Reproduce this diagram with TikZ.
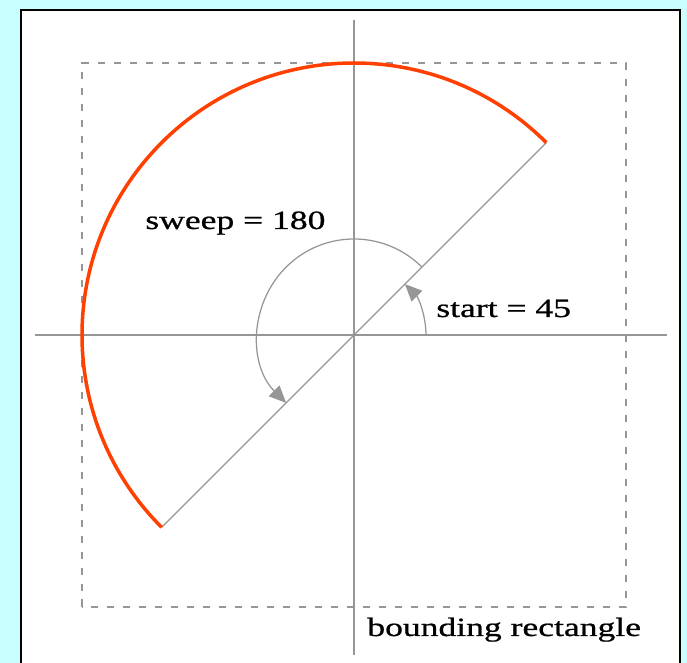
\documentclass[tikz,border=0pt]{standalone}
\usepackage{fontspec}
\setmainfont{Liberation Serif}[FakeStretch=1.35, FakeBold=0.8]
\usetikzlibrary{arrows.meta}
\definecolor{panelc}{RGB}{200,255,255}
\definecolor{arcc}{RGB}{255,64,0}
\definecolor{axisc}{RGB}{150,150,150}

\begin{document}
\begin{tikzpicture}[x=0.02cm, y=0.02cm, font=\fontsize{15}{18}\selectfont,
    axisline/.style={axisc, line width=0.025cm},
    boxline/.style={axisc, line width=0.04cm, dash pattern=on 0.15cm off 0.17cm},
    angarrow/.style={axisc, line width=0.025cm, -{Triangle[length=0.34cm, width=0.3cm]}},
    lbl/.style={anchor=base west, inner sep=0pt, text=black}]
  \def\R{272}
  \coordinate (O) at (354,328);  % centre of the ellipse

  % background + white panel
  \fill[panelc] (0,0) rectangle (687,663);
  \useasboundingbox (0,0) rectangle (687,663);
  \fill[white] (21,0) rectangle (680,653);
  \draw[black, line width=0.04cm] (21,0) -- (21,653) -- (680,653) -- (680,0);

  % axes
  \draw[axisline] (35,328) -- (667,328);
  \draw[axisline] (354,8) -- (354,643);

  % bounding rectangle
  \draw[boxline] (O) ++(-\R,-\R) rectangle ++(2*\R,2*\R);

  % chord through the centre
  \draw[axisline] (O) ++(45:\R) coordinate (P45) -- ++(225:2*\R) coordinate (P225);

  % the arc itself
  \draw[arcc, line width=0.07cm] (P45) arc[start angle=45, end angle=225, radius=\R];

  % start and sweep angles
  \draw[angarrow] (O) ++(0:72) arc[start angle=0, end angle=45, radius=72];
  \draw[angarrow] (O) ++(45:96) arc[start angle=45, end angle=225, radius=96];

  % labels
  \node[lbl] (sweepL) at (145,434) {sweep = 180};
  \node[lbl] (startL) at (436,346) {start = 45};
  \node[lbl] (boxL) at (367,27) {bounding rectangle};
\end{tikzpicture}
\end{document}
